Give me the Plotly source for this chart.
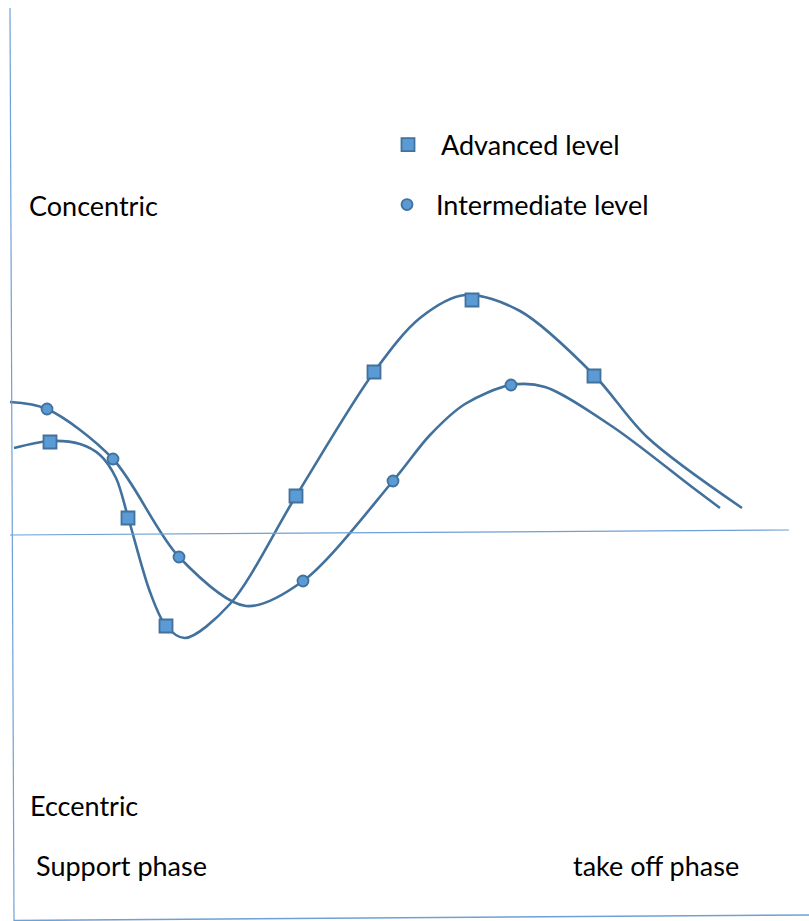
import plotly.graph_objects as go

# Coordinates: x = time (px-like units), y = force relative to zero line (positive = concentric)
ZERO = 533
adv_marker_x = [50, 128, 166, 296, 374, 472, 594]
adv_marker_px = [442, 518, 626, 496, 372, 300, 376]
adv_marker_y = [ZERO - v for v in adv_marker_px]

int_marker_x = [47, 113, 179, 303, 393, 511]
int_marker_px = [409, 459, 557, 581, 481, 385]
int_marker_y = [ZERO - v for v in int_marker_px]

adv_curve_x = [14, 50, 80, 100, 116, 128, 150, 166, 185, 230, 296, 374, 420, 465, 520, 594, 647, 742]
adv_curve_px = [448, 441, 444, 455, 478, 517, 592, 626, 638, 604, 496, 372, 318, 295, 311, 375, 437, 508]
adv_curve_y = [ZERO - v for v in adv_curve_px]

int_curve_x = [10, 47, 113, 179, 246, 303, 393, 430, 465, 511, 545, 613, 692, 720]
int_curve_px = [402, 409, 459, 557, 606, 581, 481, 435, 404, 385, 387, 427, 487, 508]
int_curve_y = [ZERO - v for v in int_curve_px]

labels = ["Concentric", "Eccentric", "Support phase", "take off phase"]
series_names = ["Advanced level", "Intermediate level"]

LINE = "#41719C"
FILL = "#5B9BD5"
AXIS = "#6FA0D6"
FONT = "Lato"
FS = 27
W, H = 809, 921

fig = go.Figure()
fig.add_trace(go.Scatter(x=adv_curve_x, y=adv_curve_y, mode="lines",
                         line=dict(color=LINE, width=2.6, shape="spline", smoothing=0.9),
                         showlegend=False, hoverinfo="skip"))
fig.add_trace(go.Scatter(x=int_curve_x, y=int_curve_y, mode="lines",
                         line=dict(color=LINE, width=2.6, shape="spline", smoothing=0.9),
                         showlegend=False, hoverinfo="skip"))
fig.add_trace(go.Scatter(x=adv_marker_x, y=adv_marker_y, mode="markers", name=series_names[0],
                         marker=dict(symbol="square", size=13, color=FILL,
                                     line=dict(color=LINE, width=1.8)),
                         legend="legend"))
fig.add_trace(go.Scatter(x=int_marker_x, y=int_marker_y, mode="markers", name=series_names[1],
                         marker=dict(symbol="circle", size=11, color=FILL,
                                     line=dict(color=LINE, width=1.8)),
                         legend="legend2"))

# frame lines
fig.add_shape(type="line", xref="x", yref="y", x0=10, y0=ZERO - 8, x1=14, y1=ZERO - 921,
              line=dict(color=AXIS, width=1.2))
fig.add_shape(type="line", xref="x", yref="y", x0=10, y0=ZERO - 535, x1=789, y1=ZERO - 530,
              line=dict(color=AXIS, width=1.2))
fig.add_shape(type="line", xref="x", yref="y", x0=14, y0=ZERO - 920.5, x1=809, y1=ZERO - 915,
              line=dict(color=AXIS, width=1.5))

def ann(text, x, ypx):
    fig.add_annotation(text=text, x=x, y=ZERO - ypx, xref="x", yref="y",
                       xanchor="left", yanchor="middle", showarrow=False,
                       font=dict(family=FONT, size=FS, color="#000000"))

ann(labels[0], 27, 205)
ann(labels[1], 28, 805)
ann(labels[2], 34, 865)
ann(labels[3], 571, 865)

leg = dict(xanchor="left", yanchor="middle", bgcolor="rgba(0,0,0,0)", borderwidth=0,
           font=dict(family=FONT, size=FS, color="#000000"), itemclick=False)
fig.update_layout(
    width=W, height=H, margin=dict(l=0, r=0, t=0, b=0),
    paper_bgcolor="white", plot_bgcolor="white",
    xaxis=dict(range=[0, W], visible=False, fixedrange=True),
    yaxis=dict(range=[ZERO - H, ZERO], visible=False, fixedrange=True),
    legend=dict(x=(408 - 33) / W, y=1 - 145 / H, itemwidth=56, **leg),
    legend2=dict(x=(407 - 29) / W, y=1 - 205 / H, itemwidth=48, **leg),
)
fig.write_html("out.html", config={"displayModeBar": False},
               post_script="document.body.style.margin='0';document.body.style.overflow='hidden';")
